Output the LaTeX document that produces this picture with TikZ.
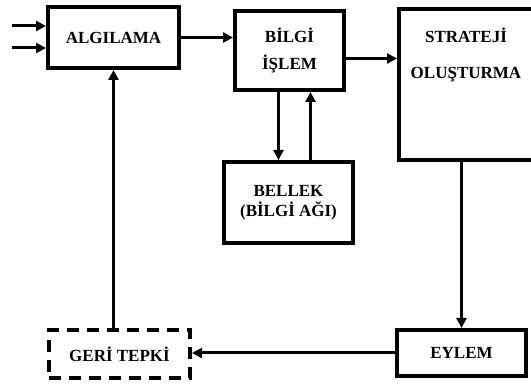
\documentclass[tikz,border=0pt]{standalone}
\usepackage{fontspec}
\setmainfont{Liberation Serif}
\usetikzlibrary{arrows.meta,positioning}

\begin{document}
\begin{tikzpicture}[x=1pt,y=-1pt,
  block/.style={draw=black,line width=4pt,align=center,inner sep=0pt,
    font=\bfseries\fontsize{17}{19}\selectfont},
  flow/.style={-{Triangle[length=10pt,width=10pt]},line width=3pt}]
\clip (0,0) rectangle (531,387);
% \draw[help lines] (0,0) grid[step=50] (531,387);
\node (algi) [block,minimum width=131pt,minimum height=61pt] at (113.5,37.5) {ALGILAMA};
\node (bilgi) [block,minimum width=109pt,minimum height=79pt] at (289.5,50.5) {BİLGİ\\[8pt]İŞLEM};
\node (strat) [block,minimum width=134pt,minimum height=151pt,
  label={[anchor=north,align=center,inner sep=0pt,yshift=-21pt,font=\bfseries\fontsize{17}{19}\selectfont]north:STRATEJİ\\[17pt]OLUŞTURMA}] at (466,84.5) {};
\node (bellek) [block,minimum width=129pt,minimum height=81pt] at (288.5,202.5) {BELLEK\\[1pt](BİLGİ AĞI)};
\node (eylem) [block,minimum width=129pt,minimum height=46pt] at (461.5,353) {EYLEM};
\node (geri) [block,dash pattern=on 12pt off 8pt,minimum width=141pt,minimum height=48pt] at (119.5,354) {GERİ TEPKİ};
%
\coordinate (in1) at (12,26);
\coordinate (in2) at (12,48);
\path[flow] (in1) edge (in1 -| algi.west);
\path[flow] (in2) edge (in2 -| algi.west);
\path[flow] (algi.east) edge (algi.east -| bilgi.west);
\path[flow] ([yshift=-8pt]bilgi.east) edge ([yshift=-8pt]bilgi.east -| strat.west);
\path[flow] ([xshift=-11pt]bilgi.south) edge ([xshift=-11pt]bilgi.south |- bellek.north);
\path[flow] ([xshift=21pt]bilgi.south |- bellek.north) edge ([xshift=21pt]bilgi.south);
\path[flow] (eylem.north |- strat.south) edge (eylem.north);
\path[flow] (eylem.west) edge (eylem.west -| geri.east);
\path[flow] (algi.south |- geri.north) edge (algi.south);
\end{tikzpicture}
\end{document}
